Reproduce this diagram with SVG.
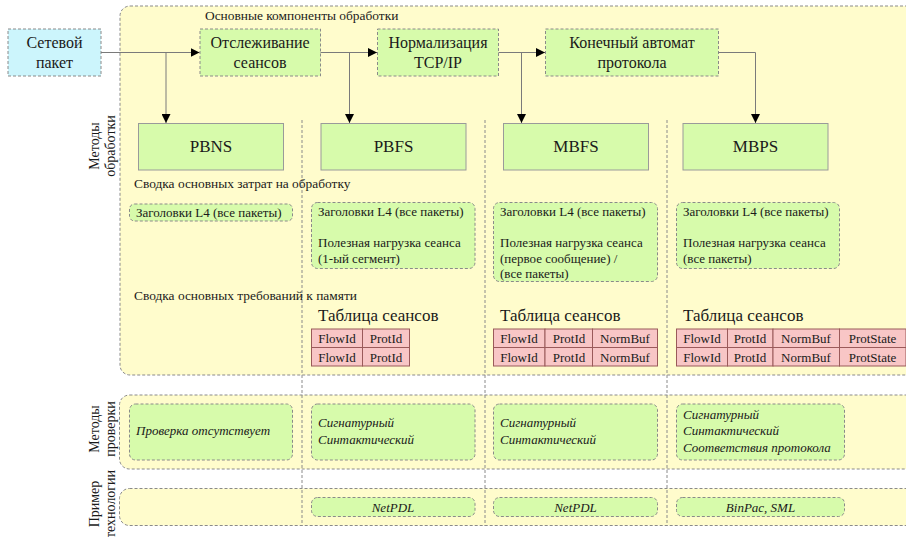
<svg xmlns="http://www.w3.org/2000/svg" width="906" height="537" viewBox="0 0 906 537" font-family="'Liberation Serif', 'Times New Roman', serif">
  <defs>
    <marker id="arrow" viewBox="0 0 10 10" refX="10" refY="5" markerWidth="9" markerHeight="9" markerUnits="userSpaceOnUse" orient="auto">
      <path d="M0,0 L10,5 L0,10 Z" fill="#000"/>
    </marker>
    <style>
      text { font-family: "Liberation Serif", "Times New Roman", serif; fill: #1a1a1a; }
      .panel { fill: #fffccc; stroke: #8a8a8a; stroke-width: 1; stroke-dasharray: 3 2; }
      .stage { fill: #d7fbab; stroke: #8a8a8a; stroke-width: 1; stroke-dasharray: 3 2; }
      .input { fill: #ccf5fc; stroke: #8a8a8a; stroke-width: 1; stroke-dasharray: 3 2; }
      .method { fill: #d7fbab; stroke: #9a9a9a; stroke-width: 1; }
      .note { fill: #d7fbab; stroke: #8a8a8a; stroke-width: 1; stroke-dasharray: 3 2; }
      .sep { stroke: #8a8a8a; stroke-width: 1; stroke-dasharray: 3 2; fill: none; }
      .cell { fill: #f8c6c6; stroke: #9a5a5a; stroke-width: 1; }
      .conn { stroke: #7a7a7a; stroke-width: 1; fill: none; }
      .big { font-size: 16px; }
      .head { font-size: 17px; }
      .small { font-size: 13px; }
      .caption { font-size: 13.4px; }
      .it { font-size: 13px; font-style: italic; }
      .side { font-size: 14px; }
    </style>
  </defs>

  <!-- background bands -->
  <rect class="panel" x="120" y="6" width="800" height="369" rx="10"/>
  <rect class="panel" x="119.5" y="395" width="800" height="74" rx="10"/>
  <rect class="panel" x="119.5" y="488.5" width="800" height="37" rx="10"/>

  <!-- column separators -->
  <g id="separators">
    <line class="sep" x1="302" y1="120" x2="302" y2="526"/>
    <line class="sep" x1="485" y1="120" x2="485" y2="526"/>
    <line class="sep" x1="667" y1="120" x2="667" y2="526"/>
  </g>

  <text class="caption" x="205" y="20">Основные компоненты обработки</text>

  <!-- row labels -->
  <g id="label-processing">
    <text class="side" transform="translate(99,146) rotate(-90)" text-anchor="middle">Методы</text>
    <text class="side" transform="translate(115,146) rotate(-90)" text-anchor="middle">обработки</text>
  </g>
  <g id="label-checking">
    <text class="side" transform="translate(99,429) rotate(-90)" text-anchor="middle">Методы</text>
    <text class="side" transform="translate(115,429) rotate(-90)" text-anchor="middle">проверки</text>
  </g>
  <g id="label-tech">
    <text class="side" transform="translate(99,504) rotate(-90)" text-anchor="middle">Пример</text>
    <text class="side" transform="translate(115,504) rotate(-90)" text-anchor="middle">технологии</text>
  </g>

  <!-- pipeline stages -->
  <g id="packet">
    <rect class="input" x="8" y="29" width="93" height="47"/>
    <text class="big" x="54.5" y="48" text-anchor="middle">Сетевой</text>
    <text class="big" x="54.5" y="68" text-anchor="middle">пакет</text>
  </g>
  <g id="tracking">
    <rect class="stage" x="200" y="29" width="120.5" height="47"/>
    <text class="big" x="260" y="48" text-anchor="middle">Отслеживание</text>
    <text class="big" x="260" y="68" text-anchor="middle">сеансов</text>
  </g>
  <g id="normalization">
    <rect class="stage" x="377.5" y="29" width="121" height="47"/>
    <text class="big" x="438" y="48" text-anchor="middle">Нормализация</text>
    <text class="big" x="438" y="68" text-anchor="middle">TCP/IP</text>
  </g>
  <g id="fsm">
    <rect class="stage" x="545.5" y="29" width="173" height="47"/>
    <text class="big" x="632" y="48" text-anchor="middle">Конечный автомат</text>
    <text class="big" x="632" y="68" text-anchor="middle">протокола</text>
  </g>

  <!-- processing methods -->
  <g id="pbns">
    <rect class="method" x="138.5" y="123.5" width="145" height="46.5"/>
    <text class="head" x="211" y="152" text-anchor="middle">PBNS</text>
  </g>
  <g id="pbfs">
    <rect class="method" x="321" y="123.5" width="145" height="46.5"/>
    <text class="head" x="393.5" y="152" text-anchor="middle">PBFS</text>
  </g>
  <g id="mbfs">
    <rect class="method" x="503.5" y="123.5" width="145" height="46.5"/>
    <text class="head" x="576" y="152" text-anchor="middle">MBFS</text>
  </g>
  <g id="mbps">
    <rect class="method" x="683" y="123.5" width="145" height="46.5"/>
    <text class="head" x="755.5" y="152" text-anchor="middle">MBPS</text>
  </g>

  <!-- connectors -->
  <g id="connectors">
    <path class="conn" d="M101,52.5 H199.5" marker-end="url(#arrow)"/>
    <path class="conn" d="M166,52.5 V123" marker-end="url(#arrow)"/>
    <path class="conn" d="M320.5,52.5 H377" marker-end="url(#arrow)"/>
    <path class="conn" d="M349.5,52.5 V123" marker-end="url(#arrow)"/>
    <path class="conn" d="M498.5,52.5 H545" marker-end="url(#arrow)"/>
    <path class="conn" d="M521.5,52.5 V123" marker-end="url(#arrow)"/>
    <path class="conn" d="M718.5,52.5 H755.5 V123" marker-end="url(#arrow)"/>
  </g>

  <!-- processing cost -->
  <text class="caption" x="134" y="188">Сводка основных затрат на обработку</text>
  <g id="cost-pbns">
    <rect class="note" x="129.5" y="204" width="163" height="17" rx="5"/>
    <text class="small" x="136" y="217">Заголовки L4 (все пакеты)</text>
  </g>
  <g id="cost-pbfs">
    <rect class="note" x="311.5" y="202.5" width="163.5" height="66" rx="6"/>
    <text class="small" x="318" y="215.5">Заголовки L4 (все пакеты)</text>
    <text class="small" x="318" y="247">Полезная нагрузка сеанса</text>
    <text class="small" x="318" y="263">(1-ый сегмент)</text>
  </g>
  <g id="cost-mbfs">
    <rect class="note" x="493.5" y="202.5" width="164" height="79" rx="6"/>
    <text class="small" x="500" y="215.5">Заголовки L4 (все пакеты)</text>
    <text class="small" x="500" y="247">Полезная нагрузка сеанса</text>
    <text class="small" x="500" y="263">(первое сообщение) /</text>
    <text class="small" x="500" y="278">(все пакеты)</text>
  </g>
  <g id="cost-mbps">
    <rect class="note" x="676.5" y="202.5" width="163" height="66" rx="6"/>
    <text class="small" x="683" y="215.5">Заголовки L4 (все пакеты)</text>
    <text class="small" x="683" y="247">Полезная нагрузка сеанса</text>
    <text class="small" x="683" y="263">(все пакеты)</text>
  </g>

  <!-- memory requirements -->
  <text class="caption" x="134" y="300">Сводка основных требований к памяти</text>
  <g id="table-pbfs">
    <text class="head" x="318" y="321">Таблица сеансов</text>
    <rect class="cell" x="311.5" y="329" width="51" height="18.5"/>
    <rect class="cell" x="362.5" y="329" width="47" height="18.5"/>
    <rect class="cell" x="311.5" y="347.5" width="51" height="18.5"/>
    <rect class="cell" x="362.5" y="347.5" width="47" height="18.5"/>
    <g text-anchor="middle">
      <text class="small" x="337" y="343">FlowId</text>
      <text class="small" x="386" y="343">ProtId</text>
      <text class="small" x="337" y="361.5">FlowId</text>
      <text class="small" x="386" y="361.5">ProtId</text>
    </g>
  </g>
  <g id="table-mbfs">
    <text class="head" x="500" y="321">Таблица сеансов</text>
    <rect class="cell" x="493.5" y="329" width="51.5" height="18.5"/>
    <rect class="cell" x="545" y="329" width="47.5" height="18.5"/>
    <rect class="cell" x="592.5" y="329" width="65" height="18.5"/>
    <rect class="cell" x="493.5" y="347.5" width="51.5" height="18.5"/>
    <rect class="cell" x="545" y="347.5" width="47.5" height="18.5"/>
    <rect class="cell" x="592.5" y="347.5" width="65" height="18.5"/>
    <g text-anchor="middle">
      <text class="small" x="519" y="343">FlowId</text>
      <text class="small" x="569" y="343">ProtId</text>
      <text class="small" x="625" y="343">NormBuf</text>
      <text class="small" x="519" y="361.5">FlowId</text>
      <text class="small" x="569" y="361.5">ProtId</text>
      <text class="small" x="625" y="361.5">NormBuf</text>
    </g>
  </g>
  <g id="table-mbps">
    <text class="head" x="683" y="321">Таблица сеансов</text>
    <rect class="cell" x="676.5" y="329" width="51" height="18.5"/>
    <rect class="cell" x="727.5" y="329" width="45.5" height="18.5"/>
    <rect class="cell" x="773" y="329" width="66.5" height="18.5"/>
    <rect class="cell" x="839.5" y="329" width="66.5" height="18.5"/>
    <rect class="cell" x="676.5" y="347.5" width="51" height="18.5"/>
    <rect class="cell" x="727.5" y="347.5" width="45.5" height="18.5"/>
    <rect class="cell" x="773" y="347.5" width="66.5" height="18.5"/>
    <rect class="cell" x="839.5" y="347.5" width="66.5" height="18.5"/>
    <g text-anchor="middle">
      <text class="small" x="702" y="343">FlowId</text>
      <text class="small" x="750" y="343">ProtId</text>
      <text class="small" x="806" y="343">NormBuf</text>
      <text class="small" x="872.5" y="343">ProtState</text>
      <text class="small" x="702" y="361.5">FlowId</text>
      <text class="small" x="750" y="361.5">ProtId</text>
      <text class="small" x="806" y="361.5">NormBuf</text>
      <text class="small" x="872.5" y="361.5">ProtState</text>
    </g>
  </g>

  <!-- checking methods -->
  <g id="check-pbns">
    <rect class="note" x="129.5" y="404" width="163" height="56" rx="6"/>
    <text class="it" x="136" y="435">Проверка отсутствует</text>
  </g>
  <g id="check-pbfs">
    <rect class="note" x="311.5" y="404" width="163.5" height="56" rx="6"/>
    <text class="it" x="318" y="427">Сигнатурный</text>
    <text class="it" x="318" y="444">Синтактический</text>
  </g>
  <g id="check-mbfs">
    <rect class="note" x="493.5" y="404" width="164" height="56" rx="6"/>
    <text class="it" x="500" y="427">Сигнатурный</text>
    <text class="it" x="500" y="444">Синтактический</text>
  </g>
  <g id="check-mbps">
    <rect class="note" x="676.5" y="404" width="168" height="56" rx="6"/>
    <text class="it" x="683" y="419">Сигнатурный</text>
    <text class="it" x="683" y="435">Синтактический</text>
    <text class="it" x="683" y="451.5">Соответствия протокола</text>
  </g>

  <!-- technology examples -->
  <g id="tech-pbfs">
    <rect class="note" x="311.5" y="497.5" width="163.5" height="19" rx="6"/>
    <text class="it" x="393" y="511.5" text-anchor="middle">NetPDL</text>
  </g>
  <g id="tech-mbfs">
    <rect class="note" x="493.5" y="497.5" width="164" height="19" rx="6"/>
    <text class="it" x="575.5" y="511.5" text-anchor="middle">NetPDL</text>
  </g>
  <g id="tech-mbps">
    <rect class="note" x="676.5" y="497.5" width="168" height="19" rx="6"/>
    <text class="it" x="760.5" y="511.5" text-anchor="middle">BinPac, SML</text>
  </g>
</svg>
